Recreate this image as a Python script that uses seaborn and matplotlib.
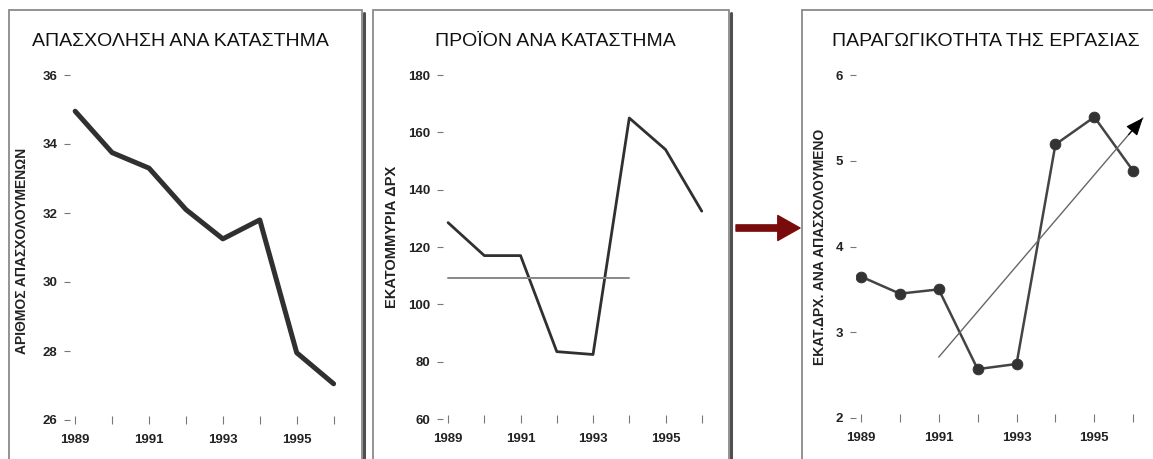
import matplotlib
matplotlib.use("Agg")
import matplotlib.pyplot as plt
import seaborn as sns
from matplotlib.patches import Rectangle, FancyArrowPatch
from matplotlib.lines import Line2D

years = [1989, 1990, 1991, 1992, 1993, 1994, 1995, 1996]
employment = [34.95, 33.75, 33.3, 32.1, 31.25, 31.8, 27.95, 27.05]
output = [128.5, 117.0, 117.0, 83.5, 82.5, 165.0, 154.0, 132.5]
productivity = [3.65, 3.45, 3.5, 2.57, 2.63, 5.19, 5.51, 4.88]

output_mean_x = [1989, 1994]
output_mean_y = [109.3, 109.3]
trend_x = [1991, 1996.25]
trend_y = [2.71, 5.5]

titles = ["ΑΠΑΣΧΟΛΗΣΗ ΑΝΑ ΚΑΤΑΣΤΗΜΑ", "ΠΡΟΪΟΝ ΑΝΑ ΚΑΤΑΣΤΗΜΑ",
          "ΠΑΡΑΓΩΓΙΚΟΤΗΤΑ ΤΗΣ ΕΡΓΑΣΙΑΣ"]
ylabels = ["ΑΡΙΘΜΟΣ ΑΠΑΣΧΟΛΟΥΜΕΝΩΝ", "ΕΚΑΤΟΜΜΥΡΙΑ ΔΡΧ",
           "ΕΚΑΤ.ΔΡΧ. ΑΝΑ ΑΠΑΣΧΟΛΟΥΜΕΝΟ"]
yticks = [[26, 28, 30, 32, 34, 36], [60, 80, 100, 120, 140, 160, 180],
          [2, 3, 4, 5, 6]]
xticklabels = ["1989", "", "1991", "", "1993", "", "1995", ""]

sns.set_style("white")
plt.rcParams["font.family"] = ["Liberation Sans", "DejaVu Sans"]

W, H = 1153, 459
fig = plt.figure(figsize=(W / 100, H / 100), dpi=100)

# panel frames (pixel boxes -> figure fractions)
for left, right in [(9, 362), (373, 729), (802, 1158)]:
    fig.add_artist(Rectangle((left / W, -0.05), (right - left) / W, 1.05 - 10 / H,
                             transform=fig.transFigure, facecolor="white",
                             edgecolor="#8a8a8a", lw=1.3, zorder=0))
    fig.add_artist(Line2D([(right + 2) / W] * 2, [0, 1 - 13 / H],
                          transform=fig.transFigure, color="#505050", lw=2.2, zorder=0))

ax1 = fig.add_axes([70 / W, 39 / H, 271 / W, 345 / H])
ax2 = fig.add_axes([443 / W, 40 / H, 266 / W, 344 / H])
ax3 = fig.add_axes([855.5 / W, 41 / H, 285.5 / W, 343 / H])
axes = [ax1, ax2, ax3]

sns.lineplot(x=years, y=employment, ax=ax1, color="#303030", lw=3.6)
sns.lineplot(x=years, y=output, ax=ax2, color="#303030", lw=2.0)
sns.lineplot(x=output_mean_x, y=output_mean_y, ax=ax2, color="#888888", lw=1.4)
sns.lineplot(x=years, y=productivity, ax=ax3, color="#444444", lw=1.8)
sns.scatterplot(x=years, y=productivity, ax=ax3, color="#333333", s=60,
                edgecolor="#333333", zorder=3)

# trend arrow: thin grey shaft, black head
ax3.annotate("", xy=(trend_x[1], trend_y[1]), xytext=(trend_x[0], trend_y[0]),
             annotation_clip=False,
             arrowprops=dict(arrowstyle="-", color="#666666", lw=1.0,
                             shrinkA=0, shrinkB=0))
f = 0.93
head_start = (trend_x[0] + f * (trend_x[1] - trend_x[0]),
              trend_y[0] + f * (trend_y[1] - trend_y[0]))
ax3.annotate("", xy=(trend_x[1], trend_y[1]), xytext=head_start,
             annotation_clip=False,
             arrowprops=dict(arrowstyle="-|>,head_length=1.1,head_width=0.45",
                             color="black", lw=0.8, shrinkA=0, shrinkB=0))

xlims = [(1988.86, 1996.2), (1988.86, 1996.2), (1988.86, 1996.2)]
label_x = [-0.15, -0.165, -0.10]
label_y = [0.49, 0.53, 0.50]
label_size = [10, 10.5, 10]

for i, ax in enumerate(axes):
    ax.set_xlim(*xlims[i])
    ax.set_ylim(yticks[i][0], yticks[i][-1])
    ax.set_facecolor("none")
    for s in ax.spines.values():
        s.set_visible(False)
    ax.set_xticks(years)
    ax.set_xticklabels(xticklabels)
    ax.set_yticks(yticks[i])
    ax.tick_params(axis="x", direction="inout", length=6, width=0.8,
                   color="#777777", pad=7, labelsize=9.5, bottom=True)
    ax.tick_params(axis="y", direction="out", length=4, width=0.8,
                   color="#777777", pad=5, labelsize=9.5, left=True)
    for lab in ax.get_xticklabels() + ax.get_yticklabels():
        lab.set_fontweight("bold")
        lab.set_color("#222222")
    ax.set_xlabel("")
    ax.set_ylabel(ylabels[i], fontsize=label_size[i], fontweight="bold",
                  color="#222222")
    ax.yaxis.set_label_coords(label_x[i], label_y[i])

title_x = [180, 555, 986]
for t, x in zip(titles, title_x):
    fig.text(x / W, 1 - 42 / H, t, ha="center", va="center", fontsize=14,
             color="#111111")

# red arrow between panels
fig.add_artist(FancyArrowPatch((736 / W, 1 - 228 / H), (800 / W, 1 - 228 / H),
                               transform=fig.transFigure,
                               arrowstyle="simple,head_length=1.6,head_width=1.8,tail_width=0.45",
                               mutation_scale=10, color="#7a0b0b", shrinkA=0, shrinkB=0))

fig.savefig("out.png", dpi=100)
